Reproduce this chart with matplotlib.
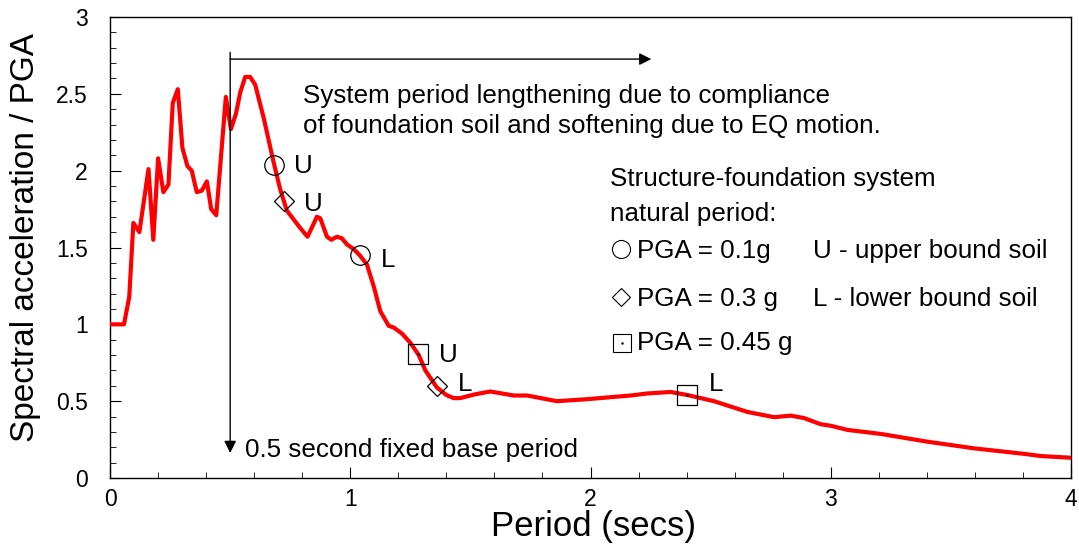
import matplotlib
matplotlib.use("Agg")
import matplotlib.pyplot as plt
from matplotlib.ticker import MultipleLocator

plt.rcParams['font.family'] = ['Liberation Sans', 'DejaVu Sans']

# spectrum (period in s, Sa/PGA)
period = [0, 0.058, 0.08, 0.097, 0.122, 0.16, 0.18, 0.20, 0.222, 0.243, 0.261, 0.282,
          0.301, 0.322, 0.34, 0.361, 0.382, 0.403, 0.421, 0.442, 0.482, 0.503, 0.524,
          0.542, 0.5625, 0.583, 0.604, 0.64, 0.68, 0.708, 0.736, 0.79, 0.822, 0.861,
          0.875, 0.903, 0.921, 0.944, 0.965, 0.986, 1.014, 1.039, 1.069, 1.097, 1.125,
          1.16, 1.18, 1.215, 1.25, 1.285, 1.3125, 1.36, 1.40, 1.43, 1.458, 1.52, 1.583,
          1.68, 1.736, 1.86, 1.986, 2.167, 2.236, 2.333, 2.403, 2.514, 2.653, 2.764,
          2.833, 2.889, 2.958, 3.0, 3.07, 3.208, 3.40, 3.597, 3.806, 3.875, 4.0]
sa = [1.0, 1.0, 1.18, 1.66, 1.60, 2.01, 1.55, 2.08, 1.86, 1.91, 2.44, 2.53,
      2.15, 2.03, 2.00, 1.86, 1.87, 1.93, 1.75, 1.71, 2.48, 2.27, 2.37,
      2.51, 2.61, 2.61, 2.56, 2.34, 2.06, 1.88, 1.74, 1.63, 1.57, 1.70,
      1.69, 1.57, 1.55, 1.57, 1.56, 1.52, 1.49, 1.45, 1.39, 1.25, 1.085,
      0.99, 0.98, 0.94, 0.88, 0.80, 0.70, 0.59, 0.54, 0.52, 0.52, 0.545, 0.563,
      0.537, 0.537, 0.50, 0.513, 0.537, 0.55, 0.56, 0.54, 0.50, 0.43, 0.396,
      0.406, 0.39, 0.35, 0.34, 0.313, 0.287, 0.237, 0.193, 0.157, 0.143, 0.132]

# system natural periods: (x, y) for upper / lower bound soil
circ_x, circ_y = [0.681, 1.039], [2.04, 1.45]
diam_x, diam_y = [0.722, 1.36], [1.80, 0.60]
sq_x, sq_y = [1.283, 2.40], [0.81, 0.54]

fig = plt.figure(figsize=(10.79, 5.46), dpi=100)
ax = fig.add_axes([0.102, 0.1245, 0.8906, 0.8444])

ax.plot(period, sa, color='#ff0000', lw=3, zorder=3)
mk = dict(ls='none', mfc='none', mec='black', mew=0.9, zorder=4)
ax.plot(circ_x, circ_y, marker='o', ms=14, **mk)
ax.plot(diam_x, diam_y, marker='D', ms=10, **mk)
ax.plot(sq_x, sq_y, marker='s', ms=14, **mk)
ax.plot(sq_x, sq_y, ls='none', marker='.', ms=1.5, color='black', zorder=4)

fs = 18.7
# labels beside the markers
ax.text(0.767, 1.982, 'U', fontsize=fs)
ax.text(0.808, 1.739, 'U', fontsize=fs)
ax.text(1.129, 1.375, 'L', fontsize=fs)
ax.text(1.368, 0.757, 'U', fontsize=fs)
ax.text(1.447, 0.568, 'L', fontsize=fs)
ax.text(2.493, 0.568, 'L', fontsize=fs)

# arrows
ax.annotate('', xy=(0.5, 0.163), xytext=(0.5, 2.77),
            arrowprops=dict(arrowstyle='-|>', color='black', lw=1,
                            mutation_scale=18, shrinkA=0, shrinkB=0))
ax.annotate('', xy=(2.253, 2.726), xytext=(0.5, 2.726),
            arrowprops=dict(arrowstyle='-|>', color='black', lw=1,
                            mutation_scale=18, shrinkA=0, shrinkB=0))

ax.text(0.804, 2.442, 'System period lengthening due to compliance', fontsize=fs)
ax.text(0.804, 2.243, 'of foundation soil and softening due to EQ motion.', fontsize=fs)
ax.text(0.5625, 0.139, '0.5 second fixed base period', fontsize=fs)

# key
ax.text(2.083, 1.90, 'Structure-foundation system', fontsize=fs)
ax.text(2.083, 1.672, 'natural period:', fontsize=fs)
lk = dict(ls='none', mfc='none', mec='black', mew=0.8)
ax.plot([2.128], [1.492], marker='o', ms=13, **lk)
ax.plot([2.128], [1.18], marker='D', ms=9, **lk)
ax.plot([2.132], [0.88], marker='s', ms=13, **lk)
ax.plot([2.132], [0.88], marker='.', ms=1.5, color='black')
ax.text(2.194, 1.429, 'PGA = 0.1g', fontsize=fs)
ax.text(2.194, 1.119, 'PGA = 0.3 g', fontsize=fs)
ax.text(2.194, 0.833, 'PGA = 0.45 g', fontsize=fs)
ax.text(2.928, 1.429, 'U - upper bound soil', fontsize=fs)
ax.text(2.928, 1.119, 'L - lower bound soil', fontsize=fs)

ax.set_xlim(0, 4)
ax.set_ylim(0, 3)
ax.xaxis.set_major_locator(MultipleLocator(1))
ax.xaxis.set_minor_locator(MultipleLocator(0.2))
ax.yaxis.set_major_locator(MultipleLocator(0.5))
ax.yaxis.set_minor_locator(MultipleLocator(0.1))
ax.yaxis.set_major_formatter(plt.FuncFormatter(lambda v, p: '%g' % v))
ax.tick_params(which='both', direction='in', top=False, right=False, labelsize=16.5)
ax.tick_params(axis='x', which='major', length=8, pad=7)
ax.tick_params(axis='y', which='major', length=8, pad=16)
ax.tick_params(which='minor', length=4)
for s in ax.spines.values():
    s.set_linewidth(1)

ax.set_xlabel('Period (secs)', fontsize=25)
ax.set_ylabel('Spectral acceleration / PGA', fontsize=24)
ax.xaxis.set_label_coords(0.503, -0.070)
ax.yaxis.set_label_coords(-0.072, 0.522)

fig.savefig('out.png', dpi=100)
